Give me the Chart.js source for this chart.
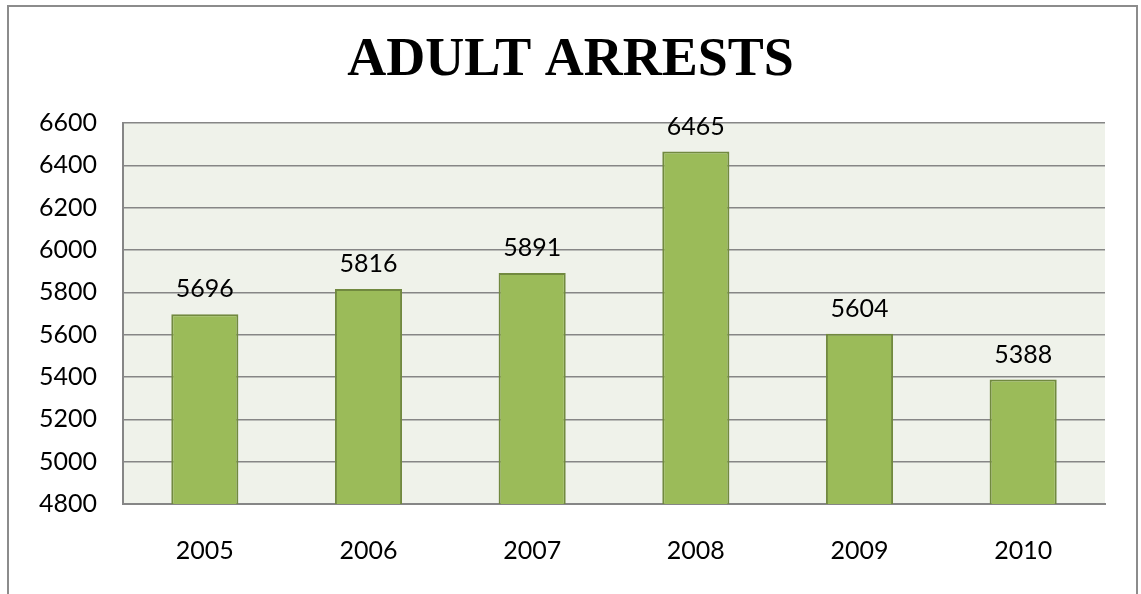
<!DOCTYPE html>
<html>
<head>
<meta charset="utf-8">
<script src="https://cdn.jsdelivr.net/npm/chart.js@4"></script>
<style>
  html, body { margin: 0; padding: 0; background: #fff; }
  #wrap { width: 1141px; height: 594px; }
</style>
</head>
<body>
<div id="wrap"><canvas id="myChart" width="1141" height="594"></canvas></div>
<script>
// chart data
const years = ["2005", "2006", "2007", "2008", "2009", "2010"];
const arrests = [5696, 5816, 5891, 6465, 5604, 5388];
const yMin = 4800;
const yMax = 6600;
const yStep = 200;

const labelFont = "Lato, 'Open Sans', sans-serif";

//Draws the grey frame round the picture and the pale plot background
const backdrop = {
  id: "backdrop",
  beforeDraw(chart) {
    const c = chart.ctx;
    const a = chart.chartArea;
    c.save();
    c.fillStyle = "#eff2ea";
    c.fillRect(a.left, a.top, a.right - a.left, a.bottom - a.top);
    c.strokeStyle = "#8c8c8c";
    c.lineWidth = 2;
    c.beginPath();
    c.moveTo(8, 594);
    c.lineTo(8, 6);
    c.lineTo(1137, 6);
    c.lineTo(1137, 594);
    c.stroke();
    c.restore();
  }
};

//Writes each value above its bar
const valueLabels = {
  id: "valueLabels",
  afterDatasetsDraw(chart) {
    const c = chart.ctx;
    const meta = chart.getDatasetMeta(0);
    c.save();
    c.font = "25px " + labelFont;
    c.fillStyle = "#000";
    c.textAlign = "center";
    c.textBaseline = "alphabetic";
    meta.data.forEach((bar, i) => {
      c.fillText(String(arrests[i]), bar.x, bar.y - 17);
    });
    c.restore();
  }
};

const ctx = document.getElementById("myChart").getContext("2d");
const myChart = new Chart(ctx, {
  type: "bar",
  data: {
    labels: years,
    datasets: [{
      data: arrests,
      backgroundColor: "#9bbb59",
      borderColor: "#71893f",
      borderWidth: 2,
      categoryPercentage: 1,
      barPercentage: 0.41
    }]
  },
  options: {
    responsive: false,
    animation: false,
    //Equal side padding keeps the title centred on the picture
    layout: { padding: { left: 36, right: 36, top: 0, bottom: 0 } },
    scales: {
      y: {
        min: yMin,
        max: yMax,
        ticks: {
          stepSize: yStep,
          color: "#000",
          padding: 26,
          font: { family: labelFont, size: 25 },
          callback: (v) => String(v)
        },
        grid: { color: "#868686", lineWidth: 1.5, drawTicks: false },
        border: { color: "#868686", width: 2 },
        afterFit(scale) { scale.width = 87; }
      },
      x: {
        ticks: {
          color: "#000",
          padding: 32,
          font: { family: labelFont, size: 25 }
        },
        grid: { display: false, drawTicks: false },
        border: { color: "#868686", width: 2 },
        afterFit(scale) { scale.height = 90; }
      }
    },
    plugins: {
      legend: { display: false },
      tooltip: { enabled: false },
      title: {
        display: true,
        text: "ADULT ARRESTS",
        color: "#000",
        font: { family: "'Liberation Serif', 'DejaVu Serif', serif", size: 54, weight: "bold", lineHeight: 1.2 },
        padding: { top: 28.6, bottom: 29.6 }
      }
    }
  },
  plugins: [backdrop, valueLabels]
});
</script>
</body>
</html>
